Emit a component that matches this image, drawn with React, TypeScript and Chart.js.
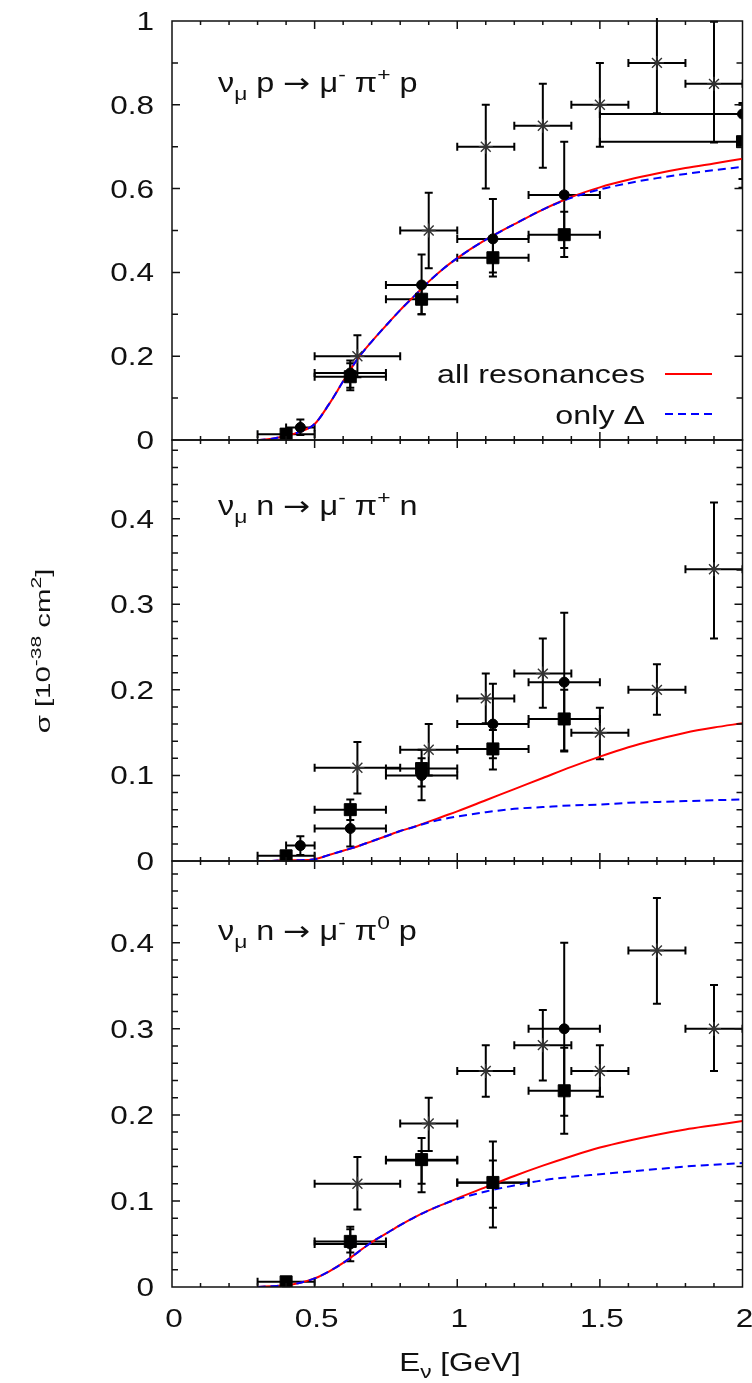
import { useEffect, useRef } from 'react';
import { Chart, registerables } from 'chart.js';

Chart.register(...registerables);

const FONT = '"Liberation Sans", Arial, "DejaVu Sans", sans-serif';
const SYMBOL_FONT = '"DejaVu Sans", "Liberation Sans", sans-serif';
const INK = '#111';

// ---------- model curves, tabulated on a common neutrino-energy grid (GeV) ----------
const curveEnergy = [0.3, 0.35, 0.4, 0.45, 0.5, 0.55, 0.6, 0.65, 0.7, 0.75, 0.8, 0.85, 0.9, 0.95, 1.0, 1.1, 1.2, 1.3, 1.4, 1.5, 1.6, 1.7, 1.8, 1.9, 2.0];

// nu_mu p -> mu- pi+ p
const ppAllRes = [0, 0.003, 0.01, 0.02, 0.038, 0.085, 0.14, 0.193, 0.235, 0.273, 0.31, 0.344, 0.378, 0.408, 0.434, 0.478, 0.515, 0.55, 0.58, 0.603, 0.621, 0.636, 0.649, 0.66, 0.671];
const ppDelta = [0, 0.003, 0.01, 0.02, 0.038, 0.085, 0.14, 0.193, 0.235, 0.273, 0.31, 0.344, 0.378, 0.408, 0.434, 0.478, 0.515, 0.55, 0.578, 0.598, 0.613, 0.625, 0.635, 0.644, 0.652];

// nu_mu n -> mu- pi+ n
const pnAllRes = [0, 0, 0.001, 0.001, 0.002, 0.007, 0.012, 0.017, 0.023, 0.029, 0.035, 0.04, 0.046, 0.052, 0.058, 0.071, 0.084, 0.097, 0.11, 0.122, 0.133, 0.142, 0.15, 0.156, 0.161];
const pnDelta = [0, 0, 0.001, 0.001, 0.002, 0.007, 0.012, 0.017, 0.023, 0.029, 0.035, 0.04, 0.045, 0.049, 0.052, 0.057, 0.061, 0.063, 0.065, 0.066, 0.068, 0.069, 0.07, 0.071, 0.072];

// nu_mu n -> mu- pi0 p
const n0AllRes = [0, 0.001, 0.002, 0.005, 0.01, 0.018, 0.028, 0.04, 0.052, 0.062, 0.072, 0.081, 0.089, 0.096, 0.103, 0.116, 0.129, 0.141, 0.152, 0.162, 0.17, 0.177, 0.183, 0.188, 0.193];
const n0Delta = [0, 0.001, 0.002, 0.005, 0.01, 0.018, 0.028, 0.04, 0.052, 0.062, 0.072, 0.081, 0.089, 0.096, 0.102, 0.111, 0.118, 0.124, 0.128, 0.131, 0.134, 0.137, 0.14, 0.142, 0.144];

// ---------- measurements: [E, sigma, E low, E high, sigma low, sigma high] ----------
const ppStars = [
  [0.65, 0.2, 0.5, 0.8, 0.15, 0.25],
  [0.9, 0.5, 0.8, 1.0, 0.41, 0.59],
  [1.1, 0.7, 1.0, 1.2, 0.6, 0.8],
  [1.3, 0.75, 1.2, 1.4, 0.65, 0.85],
  [1.5, 0.8, 1.4, 1.6, 0.7, 0.9],
  [1.7, 0.9, 1.6, 1.8, 0.78, 1.02],
  [1.9, 0.85, 1.8, 2.0, 0.71, 0.998],
];
const ppCircles = [
  [0.45, 0.03, 0.4, 0.5, 0.012, 0.049],
  [0.625, 0.16, 0.5, 0.75, 0.125, 0.19],
  [0.875, 0.37, 0.75, 1.0, 0.3, 0.443],
  [1.125, 0.48, 1.0, 1.25, 0.4, 0.575],
  [1.375, 0.585, 1.25, 1.5, 0.458, 0.712],
  [2.0, 0.778, 1.5, 2.5, 0.623, 0.804],
];
const ppSquares = [
  [0.4, 0.014, 0.3, 0.5, 0.004, 0.025],
  [0.625, 0.151, 0.5, 0.75, 0.119, 0.183],
  [0.875, 0.336, 0.75, 1.0, 0.3, 0.372],
  [1.125, 0.435, 1.0, 1.25, 0.39, 0.48],
  [1.375, 0.49, 1.25, 1.5, 0.437, 0.545],
  [2.0, 0.712, 1.5, 2.5, 0.602, 0.8],
];

const pnStars = [
  [0.65, 0.109, 0.5, 0.8, 0.079, 0.139],
  [0.9, 0.13, 0.8, 1.0, 0.1, 0.16],
  [1.1, 0.19, 1.0, 1.2, 0.161, 0.219],
  [1.3, 0.219, 1.2, 1.4, 0.179, 0.26],
  [1.5, 0.15, 1.4, 1.6, 0.119, 0.179],
  [1.7, 0.2, 1.6, 1.8, 0.171, 0.23],
  [1.9, 0.341, 1.8, 2.0, 0.26, 0.419],
];
const pnCircles = [
  [0.45, 0.018, 0.4, 0.5, 0.007, 0.029],
  [0.625, 0.038, 0.5, 0.75, 0.017, 0.058],
  [0.875, 0.1, 0.75, 1.0, 0.071, 0.12],
  [1.125, 0.16, 1.0, 1.25, 0.12, 0.207],
  [1.375, 0.209, 1.25, 1.5, 0.128, 0.29],
];
const pnSquares = [
  [0.4, 0.006, 0.3, 0.5, 0.001, 0.011],
  [0.625, 0.06, 0.5, 0.75, 0.048, 0.072],
  [0.875, 0.108, 0.75, 1.0, 0.087, 0.13],
  [1.125, 0.131, 1.0, 1.25, 0.107, 0.153],
  [1.375, 0.166, 1.25, 1.5, 0.129, 0.2],
];

const n0Stars = [
  [0.65, 0.12, 0.5, 0.8, 0.09, 0.151],
  [0.9, 0.19, 0.8, 1.0, 0.158, 0.22],
  [1.1, 0.251, 1.0, 1.2, 0.221, 0.281],
  [1.3, 0.281, 1.2, 1.4, 0.24, 0.322],
  [1.5, 0.251, 1.4, 1.6, 0.221, 0.281],
  [1.7, 0.391, 1.6, 1.8, 0.329, 0.452],
  [1.9, 0.3, 1.8, 2.0, 0.251, 0.351],
];
const n0Circles = [
  [0.625, 0.05, 0.5, 0.75, 0.04, 0.067],
  [0.875, 0.147, 0.75, 1.0, 0.12, 0.158],
  [1.125, 0.121, 1.0, 1.25, 0.092, 0.147],
  [1.375, 0.3, 1.25, 1.5, 0.199, 0.4],
];
const n0Squares = [
  [0.4, 0.006, 0.3, 0.5, 0.001, 0.011],
  [0.625, 0.053, 0.5, 0.75, 0.03, 0.07],
  [0.875, 0.148, 0.75, 1.0, 0.11, 0.173],
  [1.125, 0.1215, 1.0, 1.25, 0.069, 0.169],
  [1.375, 0.228, 1.25, 1.5, 0.178, 0.278],
];

// ---------- axis ticks ----------
const xTickValues = [0, 0.5, 1, 1.5, 2];
const xTickLabels = ['0', '0.5', '1', '1.5', '2'];
const ppTickValues = [0, 0.2, 0.4, 0.6, 0.8, 1];
const ppTickLabels = ['0', '0.2', '0.4', '0.6', '0.8', '1'];
const nTickValues = [0, 0.1, 0.2, 0.3, 0.4];
const nTickLabels = ['0', '0.1', '0.2', '0.3', '0.4'];

type Run = { t: string; k?: 'sub' | 'sup'; sym?: boolean };

interface PanelSpec {
  top: number;
  height: number;
  padTop: number;
  padBottom: number;
  yMax: number;
  yMinorStep: number;
  yTickValues: number[];
  yTickLabels: string[];
  allRes: number[];
  delta: number[];
  stars: number[][];
  circles: number[][];
  squares: number[][];
  reaction: Run[];
  reactionBaseline: number; // page coordinates
  legend?: boolean;
  yTitle?: boolean;
  xAxis?: boolean;
}

const reactionRuns = (target: string, pion: string, out: string): Run[] => [
  { t: 'ν' }, { t: 'μ', k: 'sub' }, { t: ` ${target} ` }, { t: '→', sym: true }, { t: ' μ' },
  { t: '-', k: 'sup' }, { t: ' π' }, { t: pion, k: 'sup' }, { t: ` ${out}` },
];

const PANELS: PanelSpec[] = [
  {
    top: 0, height: 470, padTop: 21, padBottom: 30,
    yMax: 1, yMinorStep: 0.1, yTickValues: ppTickValues, yTickLabels: ppTickLabels,
    allRes: ppAllRes, delta: ppDelta, stars: ppStars, circles: ppCircles, squares: ppSquares,
    reaction: reactionRuns('p', '+', 'p'),
    reactionBaseline: 92,
    legend: true,
  },
  {
    top: 420, height: 470, padTop: 20, padBottom: 29,
    yMax: 0.492, yMinorStep: 0.02, yTickValues: nTickValues, yTickLabels: nTickLabels,
    allRes: pnAllRes, delta: pnDelta, stars: pnStars, circles: pnCircles, squares: pnSquares,
    reaction: reactionRuns('n', '+', 'n'),
    reactionBaseline: 515,
    yTitle: true,
  },
  {
    top: 841, height: 542, padTop: 20, padBottom: 96,
    yMax: 0.495, yMinorStep: 0.02, yTickValues: nTickValues, yTickLabels: nTickLabels,
    allRes: n0AllRes, delta: n0Delta, stars: n0Stars, circles: n0Circles, squares: n0Squares,
    reaction: reactionRuns('n', '0', 'p'),
    reactionBaseline: 940,
    xAxis: true,
  },
];

// Draws a sequence of text runs (with sub/superscripts), widened by sx along the text direction.
function drawRuns(
  ctx: CanvasRenderingContext2D,
  runs: Run[],
  x: number,
  y: number,
  size: number,
  sx: number,
  align: 'left' | 'center' | 'right',
) {
  const fontFor = (r: Run) => `${r.k ? Math.round(size * 0.7) : size}px ${r.sym ? SYMBOL_FONT : FONT}`;
  const widthOf = (r: Run) => {
    ctx.font = fontFor(r);
    return ctx.measureText(r.t).width * sx;
  };
  const total = runs.reduce((s, r) => s + widthOf(r), 0);
  let cx = align === 'left' ? x : align === 'center' ? x - total / 2 : x - total;
  ctx.textAlign = 'left';
  ctx.textBaseline = 'alphabetic';
  ctx.fillStyle = INK;
  for (const r of runs) {
    const w = widthOf(r);
    const dy = r.k === 'sub' ? size * 0.28 : r.k === 'sup' ? -size * 0.42 : 0;
    ctx.save();
    ctx.translate(cx, y + dy);
    ctx.scale(sx, 1);
    ctx.font = fontFor(r);
    ctx.fillText(r.t, 0, 0);
    ctx.restore();
    cx += w;
  }
}

const CAP = 4;

function panelPlugin(p: PanelSpec) {
  return {
    id: 'panelDecor',
    beforeDatasetsDraw(chart: any) {
      const { ctx, chartArea: a, scales } = chart;
      const xs = scales.x;
      const ys = scales.y;
      ctx.save();
      ctx.beginPath();
      ctx.rect(a.left - 1, a.top - 3, a.right - a.left + 1, a.bottom - a.top + 6);
      ctx.clip();
      ctx.strokeStyle = '#000';
      ctx.lineWidth = 2;
      ctx.lineCap = 'butt';
      for (const set of [p.stars, p.squares, p.circles]) {
        for (const r of set) {
          const px = xs.getPixelForValue(r[0]);
          const py = ys.getPixelForValue(r[1]);
          const x0 = xs.getPixelForValue(r[2]);
          const x1 = xs.getPixelForValue(r[3]);
          const y0 = ys.getPixelForValue(r[4]);
          const y1 = ys.getPixelForValue(r[5]);
          ctx.beginPath();
          ctx.moveTo(x0, py); ctx.lineTo(x1, py);
          ctx.moveTo(x0, py - CAP); ctx.lineTo(x0, py + CAP);
          ctx.moveTo(x1, py - CAP); ctx.lineTo(x1, py + CAP);
          ctx.moveTo(px, y0); ctx.lineTo(px, y1);
          ctx.moveTo(px - CAP, y0); ctx.lineTo(px + CAP, y0);
          ctx.moveTo(px - CAP, y1); ctx.lineTo(px + CAP, y1);
          ctx.stroke();
        }
      }
      ctx.restore();
    },
    afterDatasetsDraw(chart: any) {
      const { ctx, chartArea: a, scales } = chart;
      const xs = scales.x;
      const ys = scales.y;
      ctx.save();
      // frame
      ctx.strokeStyle = INK;
      ctx.lineWidth = 1.5;
      ctx.strokeRect(a.left, a.top, a.right - a.left, a.bottom - a.top);
      // x ticks (inward, top and bottom)
      ctx.beginPath();
      for (let i = 1; i < 20; i++) {
        const px = xs.getPixelForValue(i / 10);
        const len = i % 5 === 0 ? 8 : 4;
        ctx.moveTo(px, a.bottom); ctx.lineTo(px, a.bottom - len);
        ctx.moveTo(px, a.top); ctx.lineTo(px, a.top + len);
      }
      // y ticks (inward, left and right)
      const n = Math.floor(p.yMax / p.yMinorStep + 1e-6);
      for (let j = 1; j <= n; j++) {
        const v = j * p.yMinorStep;
        if (v >= p.yMax - 1e-6) break;
        const py = ys.getPixelForValue(v);
        const major = p.yTickValues.some((t) => Math.abs(t - v) < 1e-6);
        const len = major ? 8 : 6;
        ctx.moveTo(a.left, py); ctx.lineTo(a.left + len, py);
        ctx.moveTo(a.right, py); ctx.lineTo(a.right - len, py);
      }
      ctx.stroke();

      // y tick labels
      p.yTickValues.forEach((v, i) => {
        const py = ys.getPixelForValue(v);
        drawRuns(ctx, [{ t: p.yTickLabels[i] }], 154, py + 9, 25, 1.26, 'right');
      });

      // reaction label
      drawRuns(ctx, p.reaction, 218, p.reactionBaseline - p.top, 27, 1.2, 'left');

      if (p.legend) {
        const off = p.top;
        drawRuns(ctx, [{ t: 'all resonances' }], 645, 383 - off, 26, 1.24, 'right');
        drawRuns(ctx, [{ t: 'only Δ' }], 645, 424 - off, 26, 1.24, 'right');
        ctx.lineWidth = 2;
        ctx.strokeStyle = '#ff0000';
        ctx.beginPath(); ctx.moveTo(665, 374 - off); ctx.lineTo(712, 374 - off); ctx.stroke();
        ctx.strokeStyle = '#0000ff';
        ctx.setLineDash([8, 5]);
        ctx.beginPath(); ctx.moveTo(665, 414 - off); ctx.lineTo(712, 414 - off); ctx.stroke();
        ctx.setLineDash([]);
      }

      if (p.yTitle) {
        ctx.save();
        ctx.translate(50, 651 - p.top);
        ctx.rotate(-Math.PI / 2);
        drawRuns(ctx, [{ t: 'σ [10' }, { t: '-38', k: 'sup' }, { t: ' cm' }, { t: '2', k: 'sup' }, { t: ']' }], 0, 0, 21, 1.4, 'center');
        ctx.restore();
      }

      if (p.xAxis) {
        xTickValues.forEach((v, i) => {
          const px = xs.getPixelForValue(v);
          drawRuns(ctx, [{ t: xTickLabels[i] }], px + 2, 1327 - p.top, 25, 1.26, 'center');
        });
        drawRuns(ctx, [{ t: 'E' }, { t: 'ν', k: 'sub' }, { t: ' [GeV]' }], 460, 1371 - p.top, 25, 1.26, 'center');
      }
      ctx.restore();
    },
  };
}

function buildConfig(p: PanelSpec): any {
  const curve = (vals: number[]) => curveEnergy.map((e, i) => ({ x: e, y: vals[i] }));
  const pts = (rows: number[][]) => rows.map((r) => ({ x: r[0], y: r[1] }));
  return {
    type: 'scatter',
    data: {
      datasets: [
        {
          label: 'circles', data: pts(p.circles), pointStyle: 'circle', pointRadius: 5, pointHoverRadius: 5,
          backgroundColor: '#000', borderColor: '#000', borderWidth: 1, order: 0,
        },
        {
          label: 'squares', data: pts(p.squares), pointStyle: 'rect', pointRadius: 8.5, pointHoverRadius: 8.5,
          backgroundColor: '#000', borderColor: '#000', borderWidth: 1, order: 1,
        },
        {
          label: 'stars', data: pts(p.stars), pointStyle: 'star', pointRadius: 7, pointHoverRadius: 7,
          backgroundColor: 'rgba(0,0,0,0)', borderColor: '#333', borderWidth: 1.4, order: 1,
        },
        {
          label: 'only Δ', data: curve(p.delta), showLine: true, pointRadius: 0, pointHoverRadius: 0,
          borderColor: '#0000ff', borderWidth: 2, borderDash: [8, 5], cubicInterpolationMode: 'monotone', order: 2,
        },
        {
          label: 'all resonances', data: curve(p.allRes), showLine: true, pointRadius: 0, pointHoverRadius: 0,
          borderColor: '#ff0000', borderWidth: 2, cubicInterpolationMode: 'monotone', order: 3,
        },
      ],
    },
    options: {
      responsive: false,
      animation: false,
      events: [],
      layout: { padding: { left: 172, right: 5, top: p.padTop, bottom: p.padBottom } },
      scales: {
        x: { type: 'linear', min: 0, max: 2, display: false },
        y: { type: 'linear', min: 0, max: p.yMax, display: false },
      },
      plugins: { legend: { display: false }, tooltip: { enabled: false } },
    },
    plugins: [panelPlugin(p)],
  };
}

export default function App() {
  const r0 = useRef<HTMLCanvasElement>(null);
  const r1 = useRef<HTMLCanvasElement>(null);
  const r2 = useRef<HTMLCanvasElement>(null);
  const refs = [r0, r1, r2];

  useEffect(() => {
    const charts = PANELS.map((p, i) => new Chart(refs[i].current as HTMLCanvasElement, buildConfig(p)));
    return () => charts.forEach((c) => c.destroy());
  }, []);

  return (
    <div style={{ position: 'absolute', left: 0, top: 0, width: 752, height: 1383, background: '#fff', overflow: 'hidden' }}>
      {PANELS.map((p, i) => (
        <canvas
          key={i}
          ref={refs[i]}
          width={752}
          height={p.height}
          style={{ position: 'absolute', left: 0, top: p.top, width: 752, height: p.height }}
        />
      ))}
    </div>
  );
}
